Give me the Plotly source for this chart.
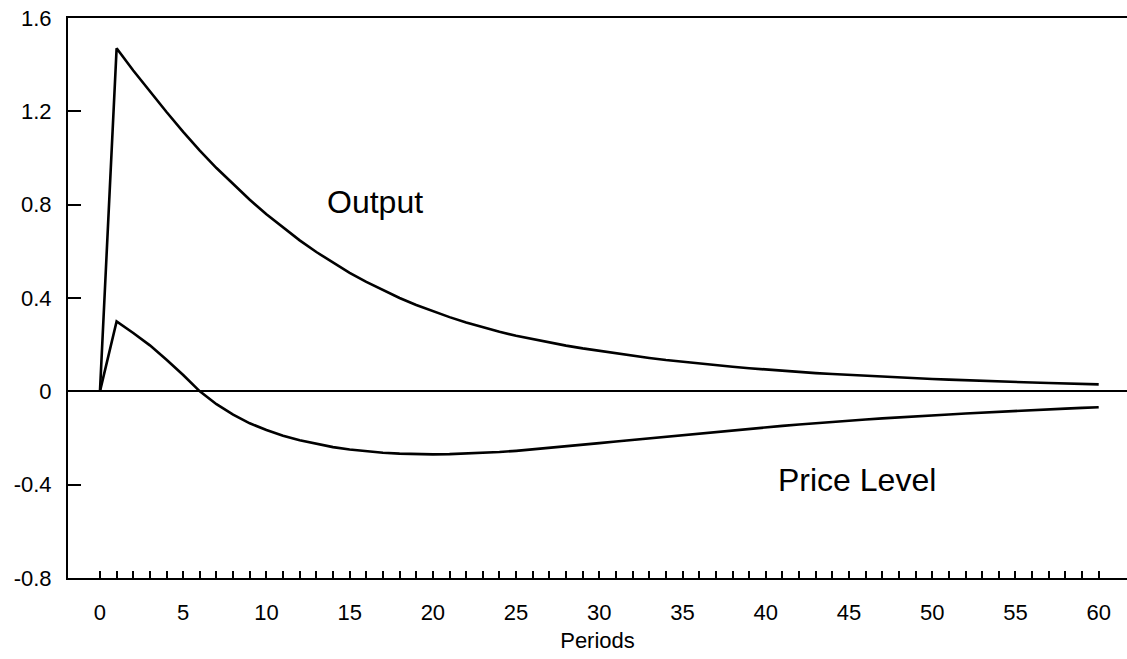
import plotly.graph_objects as go

periods = list(range(61))

output = [0.0, 1.47, 1.375, 1.285, 1.197, 1.112, 1.032, 0.957, 0.887, 0.821,
          0.759, 0.701, 0.647, 0.597, 0.551, 0.508, 0.469, 0.433, 0.400, 0.370,
          0.343, 0.318, 0.295, 0.274, 0.255, 0.238, 0.223, 0.209, 0.196, 0.184,
          0.173, 0.162, 0.152, 0.143, 0.134, 0.126, 0.119, 0.112, 0.105, 0.099,
          0.093, 0.088, 0.083, 0.078, 0.074, 0.070, 0.066, 0.062, 0.059, 0.056,
          0.053, 0.050, 0.047, 0.045, 0.042, 0.040, 0.038, 0.036, 0.034, 0.032,
          0.030]

price_level = [0.0, 0.30, 0.25, 0.197, 0.135, 0.07, 0.0, -0.055, -0.1, -0.137,
               -0.166, -0.19, -0.21, -0.226, -0.239, -0.249, -0.257, -0.263, -0.267, -0.269,
               -0.27, -0.269, -0.267, -0.264, -0.26, -0.255, -0.249, -0.243, -0.236, -0.229,
               -0.222, -0.215, -0.208, -0.201, -0.194, -0.187, -0.18, -0.173, -0.166, -0.16,
               -0.154, -0.148, -0.142, -0.136, -0.131, -0.126, -0.121, -0.116, -0.111, -0.107,
               -0.103, -0.099, -0.095, -0.091, -0.087, -0.083, -0.08, -0.077, -0.074, -0.071,
               -0.068]

x_tick_vals = list(range(61))
x_tick_text = [str(v) if v % 5 == 0 else "" for v in x_tick_vals]
y_tick_vals = [-0.8, -0.4, 0, 0.4, 0.8, 1.2, 1.6]
y_tick_text = ["-0.8", "-0.4", "0", "0.4", "0.8", "1.2", "1.6"]

line_style = dict(color="black", width=2.6)

fig = go.Figure()
fig.add_trace(go.Scatter(x=periods, y=output, mode="lines", line=line_style,
                         name="Output"))
fig.add_trace(go.Scatter(x=periods, y=price_level, mode="lines", line=line_style,
                         name="Price Level"))

fig.add_annotation(x=16.5, y=0.81, text="Output", showarrow=False,
                   font=dict(size=32, color="black"))
fig.add_annotation(x=45.5, y=-0.38, text="Price Level", showarrow=False,
                   font=dict(size=32, color="black"))

font_family = "Liberation Sans, Arial, sans-serif"

fig.update_layout(
    width=1127, height=659,
    margin=dict(l=68, r=0, t=18, b=81),
    paper_bgcolor="white", plot_bgcolor="white",
    showlegend=False,
    font=dict(family=font_family, color="black"),
    xaxis=dict(
        range=[-1.92, 61.7],
        tickmode="array", tickvals=x_tick_vals, ticktext=x_tick_text,
        ticks="inside", ticklen=7, tickwidth=1.5, tickcolor="black",
        ticklabelstandoff=14,
        tickfont=dict(size=22),
        showline=True, linecolor="black", linewidth=2, mirror=True,
        showgrid=False, zeroline=False,
        title=dict(text="Periods", font=dict(size=22), standoff=8),
    ),
    yaxis=dict(
        range=[-0.8, 1.6],
        tickmode="array", tickvals=y_tick_vals, ticktext=y_tick_text,
        ticks="inside", ticklen=13, tickwidth=1.5, tickcolor="black",
        ticklabelstandoff=10,
        tickfont=dict(size=22),
        showline=True, linecolor="black", linewidth=2,
        showgrid=False,
        zeroline=True, zerolinecolor="black", zerolinewidth=1.5,
    ),
)

fig.write_html("out.html")
